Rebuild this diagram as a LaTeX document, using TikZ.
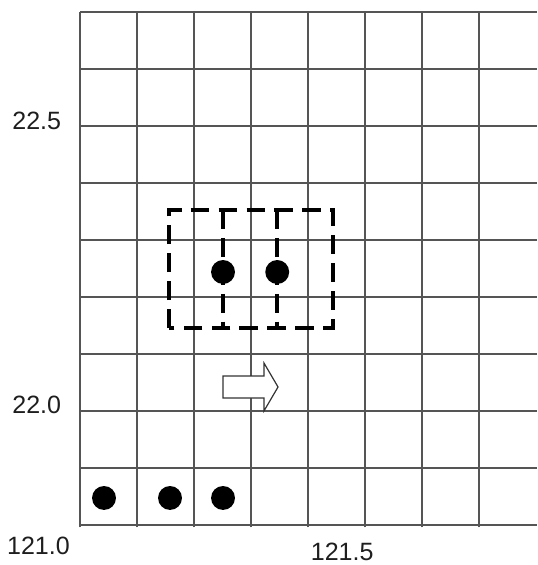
\documentclass[tikz,border=0pt]{standalone}
\usepackage{fontspec}
\setmainfont{Liberation Sans}
\usepackage{xcolor}
\usetikzlibrary{positioning, calc}
\definecolor{gridline}{RGB}{85, 85, 85}
\definecolor{labeltext}{RGB}{30, 30, 30}
\tikzset{
  font=\fontsize{12.5}{14}\selectfont,
  gridrule/.style={draw=gridline, line width=0.6pt},
  stationdot/.style={circle, fill=black, inner sep=0pt, minimum size=0.42cm},
  boxline/.style={draw=black, line width=2.2pt, dash pattern=on 0.33cm off 0.16cm},
  ticklabel/.style={inner sep=0pt, text=labeltext},
  movearrow/.style={draw=black!80, fill=white, line width=0.6pt, line join=miter}
}

\begin{document}
\begin{tikzpicture}
  \useasboundingbox (-1.404,-0.702) rectangle (8.018,9.211);

  % grid
  \foreach \i in {0,...,7}
    \draw[gridrule] (\i,-0.04) -- (\i,9);
  \foreach \j in {0,...,9}
    \draw[gridrule] (0,\j) -- (8.02,\j);

  % axis labels
  \node[ticklabel] (lat1) at (-0.76,7.09) {22.5};
  \node[ticklabel] (lat0) at (-0.76,2.105) {22.0};
  \node[ticklabel] (lon0) at (-0.73,-0.37) {121.0};
  \node[ticklabel] (lon1) at (4.60,-0.47) {121.5};

  % dashed window
  \coordinate (bl) at (1.561,3.456);
  \coordinate (tr) at (4.439,5.526);
  \draw[boxline] (bl) rectangle (tr);
  \draw[boxline] (2.509,5.526) -- (2.509,3.456);
  \draw[boxline] (3.46,5.526) -- (3.46,3.456);

  % stations
  \node[stationdot] (d1) at (2.509,4.439) {};
  \node[stationdot] (d2) at (3.46,4.439) {};
  \node[stationdot] (s1) at (0.421,0.474) {};
  \node[stationdot] (s2) at (1.579,0.474) {};
  \node[stationdot] (s3) at (2.509,0.474) {};

  % moving direction
  \draw[movearrow] (2.509,2.228) -- (3.228,2.228) -- (3.228,2.001) -- (3.474,2.421)
    -- (3.228,2.841) -- (3.228,2.614) -- (2.509,2.614) -- cycle;
\end{tikzpicture}
\end{document}
